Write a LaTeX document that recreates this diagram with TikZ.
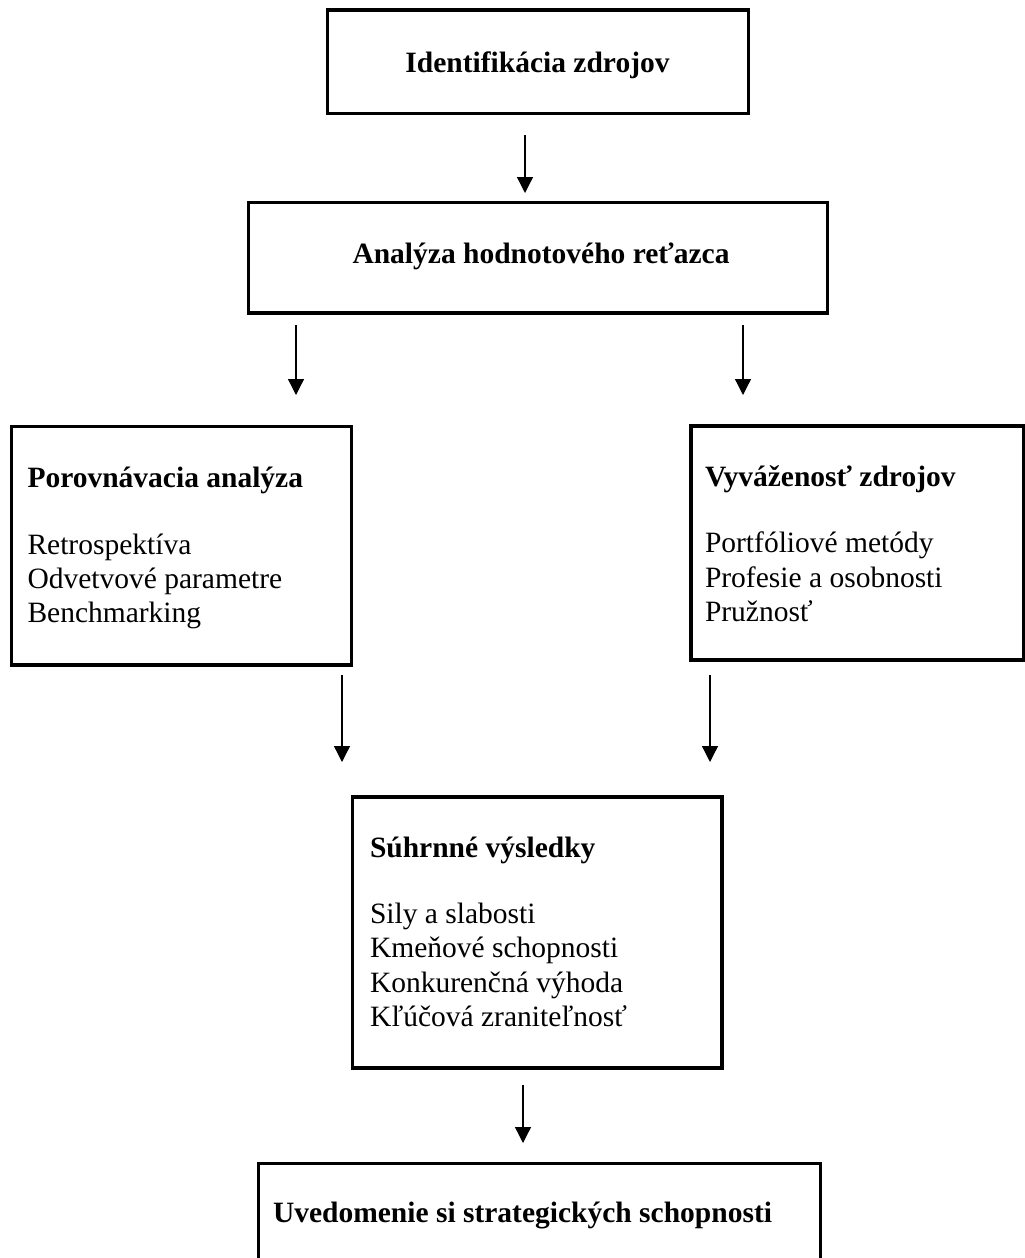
\documentclass[tikz,border=0pt]{standalone}
\usepackage{fontspec}
\setmainfont{Liberation Serif}
\usetikzlibrary{arrows.meta}
\begin{document}
\begin{tikzpicture}[x=1pt,y=-1pt,
  box/.style={draw=black,line width=3.3pt,rectangle,inner sep=0pt,outer sep=0pt},
  txt/.style={inner sep=0pt,outer sep=0pt,anchor=base west,font=\fontsize{29.5}{34.3}\selectfont},
  head/.style={txt,font=\fontsize{29.5}{34.3}\selectfont\bfseries},
  arr/.style={line width=1.3pt,-{Triangle[width=16pt,length=16pt]}}]
% page frame
\path[clip] (0,0) rectangle (1025,1258);
\fill[white] (0,0) rectangle (1025,1258);

% boxes
\node[box,minimum width=421pt,minimum height=103.5pt] (idbox) at (538,61.75) {};
\node[box,minimum width=579pt,minimum height=110.5pt] (vcbox) at (538,257.75) {};
\node[box,minimum width=339.6pt,minimum height=238.3pt] (cmpbox) at (181.5,545.85) {};
\node[box,minimum width=332.5pt,minimum height=234pt] (balbox) at (857.25,543) {};
\node[box,minimum width=369.7pt,minimum height=271pt] (sumbox) at (537.15,932.5) {};
\node[box,minimum width=562pt,minimum height=126.7pt] (stratbox) at (539.3,1226.65) {};

% single-line headings
\node[head,anchor=base] (idtxt) at (537.5,72) {Identifikácia zdrojov};
\node[head,anchor=base] (vctxt) at (541,263.3) {Analýza hodnotového reťazca};

% comparative analysis
\node[head] (cmph) at (27.5,487) {Porovnávacia analýza};
\node[txt] (cmp1) at (27.5,554) {Retrospektíva};
\node[txt] (cmp2) at (27.5,588) {Odvetvové parametre};
\node[txt] (cmp3) at (27.5,622) {Benchmarking};

% resource balance
\node[head] (balh) at (705,486) {Vyváženosť zdrojov};
\node[txt] (bal1) at (705,552) {Portfóliové metódy};
\node[txt] (bal2) at (705,587) {Profesie a osobnosti};
\node[txt] (bal3) at (705,621) {Pružnosť};

% summary
\node[head] (sumh) at (370,857) {Súhrnné výsledky};
\node[txt] (sum1) at (370,923) {Sily a slabosti};
\node[txt] (sum2) at (370,957) {Kmeňové schopnosti};
\node[txt] (sum3) at (370,992) {Konkurenčná výhoda};
\node[txt] (sum4) at (370,1026) {Kľúčová zraniteľnosť};

% strategic capabilities
\node[head] (strath) at (273,1222.5) {Uvedomenie si strategických schopnosti};

% arrow end points
\coordinate (a1s) at (525,135);  \coordinate (a1e) at (525,193);
\coordinate (a2s) at (296,325);  \coordinate (a2e) at (296,395);
\coordinate (a3s) at (743,325);  \coordinate (a3e) at (743,395);
\coordinate (a4s) at (342,675);  \coordinate (a4e) at (342,762);
\coordinate (a5s) at (710,675);  \coordinate (a5e) at (710,762);
\coordinate (a6s) at (523,1085); \coordinate (a6e) at (523,1143);

\draw[arr] (a1s) -- (a1e);
\draw[arr] (a2s) -- (a2e);
\draw[arr] (a3s) -- (a3e);
\draw[arr] (a4s) -- (a4e);
\draw[arr] (a5s) -- (a5e);
\draw[arr] (a6s) -- (a6e);
\end{tikzpicture}
\end{document}
